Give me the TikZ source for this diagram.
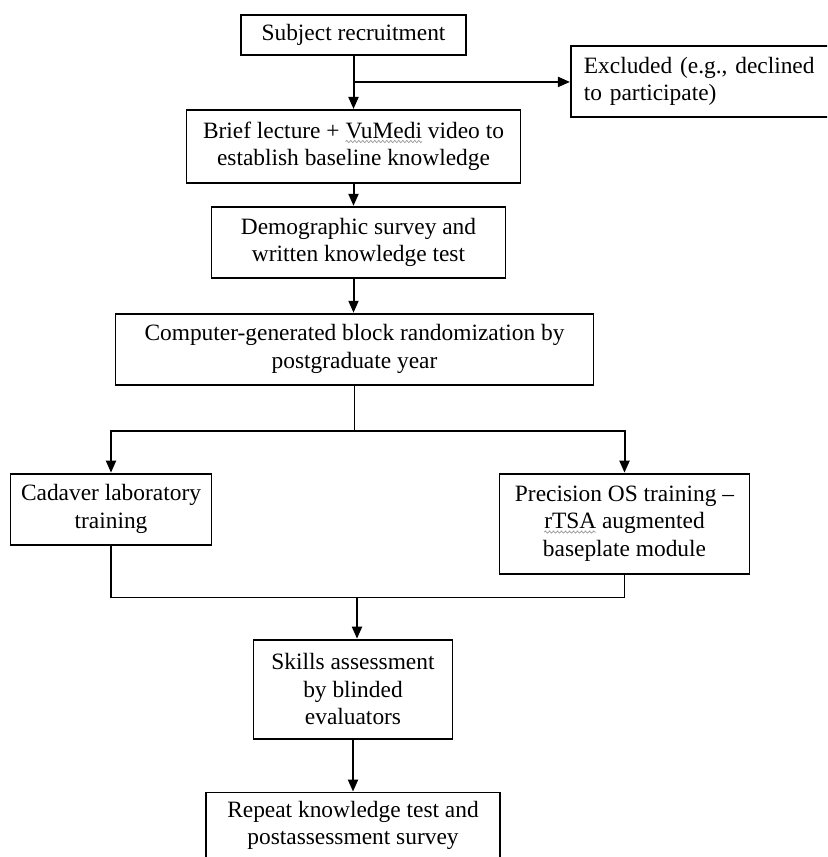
\documentclass[tikz,border=0pt]{standalone}
\usepackage{fontspec}
\setmainfont{Liberation Serif}
\usepackage{xcolor}
\usetikzlibrary{arrows.meta,positioning,calc,decorations.pathmorphing}
\newcommand{\spellmark}[1]{\tikz[baseline=(w.base)]{\node[draw=none, inner sep=0pt, outer sep=0pt, minimum width=0pt, minimum height=0pt, text width=, align=none] (w) {#1};
  \draw[overlay, gray!80, line width=0.35pt, decorate, decoration={snake, amplitude=0.55pt, segment length=2pt}] ([yshift=-1.6pt]w.base west) -- ([yshift=-1.6pt]w.base east);}}

\begin{document}
\begin{tikzpicture}[>={Triangle[length=6pt,width=5pt]}, font=\fontsize{11.7}{13.8}\selectfont, node distance=9pt]
  \tikzset{blk/.style={draw, line width=0.95pt, inner sep=2pt, align=center},
           link/.style={line width=1pt},
           thinlink/.style={line width=0.65pt}}
  \useasboundingbox (0,0) rectangle (413.5pt,-428.5pt);
  \clip (0,0) rectangle (413.5pt,-428.5pt);
  % top: recruitment and exclusion
  \node[blk, minimum width=112.5pt, minimum height=20pt] (sub) at (176.75pt,-17.5pt) {Subject recruitment};
  \node[blk, align=left, text width=125pt, inner xsep=6.5pt, minimum height=35.5pt, right=51.5pt of sub, yshift=-23.25pt] (excl) {Excluded (e.g., declined\\to participate)};
  \node[blk, minimum width=167pt, minimum height=36.5pt, below=26.5pt of sub] (lect) {Brief lecture + \spellmark{VuMedi} video to\\establish baseline knowledge};
  \node[blk, minimum width=147pt, minimum height=35.5pt, below=11pt of lect, xshift=2.5pt] (demo) {Demographic survey and\\written knowledge test};
  \node[blk, minimum width=239pt, minimum height=35.5pt, below=17pt of demo, xshift=-2pt] (rand) {Computer-generated block randomization by\\postgraduate year};
  % the two training arms
  \node[blk, minimum width=100.5pt, minimum height=35.5pt, below=43.5pt of rand, xshift=-121.75pt] (cad) {Cadaver laboratory\\training};
  \node[blk, minimum width=125pt, minimum height=50pt, below=43.5pt of rand, xshift=135pt] (prec) {Precision OS training --\\\spellmark{rTSA} augmented\\baseplate module};
  % assessment
  \node[blk, minimum width=99.5pt, minimum height=49.5pt, below=126.5pt of rand, xshift=-0.75pt] (skill) {Skills assessment\\by blinded\\evaluators};
  \node[blk, minimum width=147pt, minimum height=33pt, below=26pt of skill] (rep) {Repeat knowledge test and\\postassessment survey};
  % connectors
  \draw[link,->] (sub.south) -- (sub.south |- lect.north);
  \draw[link,->] ($(sub.south)+(0,-13pt)$) coordinate (br) -- (excl.west |- br);
  \draw[link,->] (lect.south -| sub.south) -- (sub.south |- demo.north);
  \draw[link,->] (demo.south -| sub.south) -- (sub.south |- rand.north);
  \draw[thinlink] (rand.south) -- ++(0,-22.5pt) coordinate (sp);
  \draw[link,->] (sp) -| (cad.north);
  \draw[link,->] (sp) -| (prec.north);
  \draw[thinlink] (cad.south) -- ++(0,-26pt) coordinate (jn) -| (prec.south);
  \draw[link,->] ([xshift=2pt]jn -| skill.north) -- ([xshift=2pt]skill.north);
  \draw[link,->] (skill.south) -- (skill.south |- rep.north);
\end{tikzpicture}
\end{document}
